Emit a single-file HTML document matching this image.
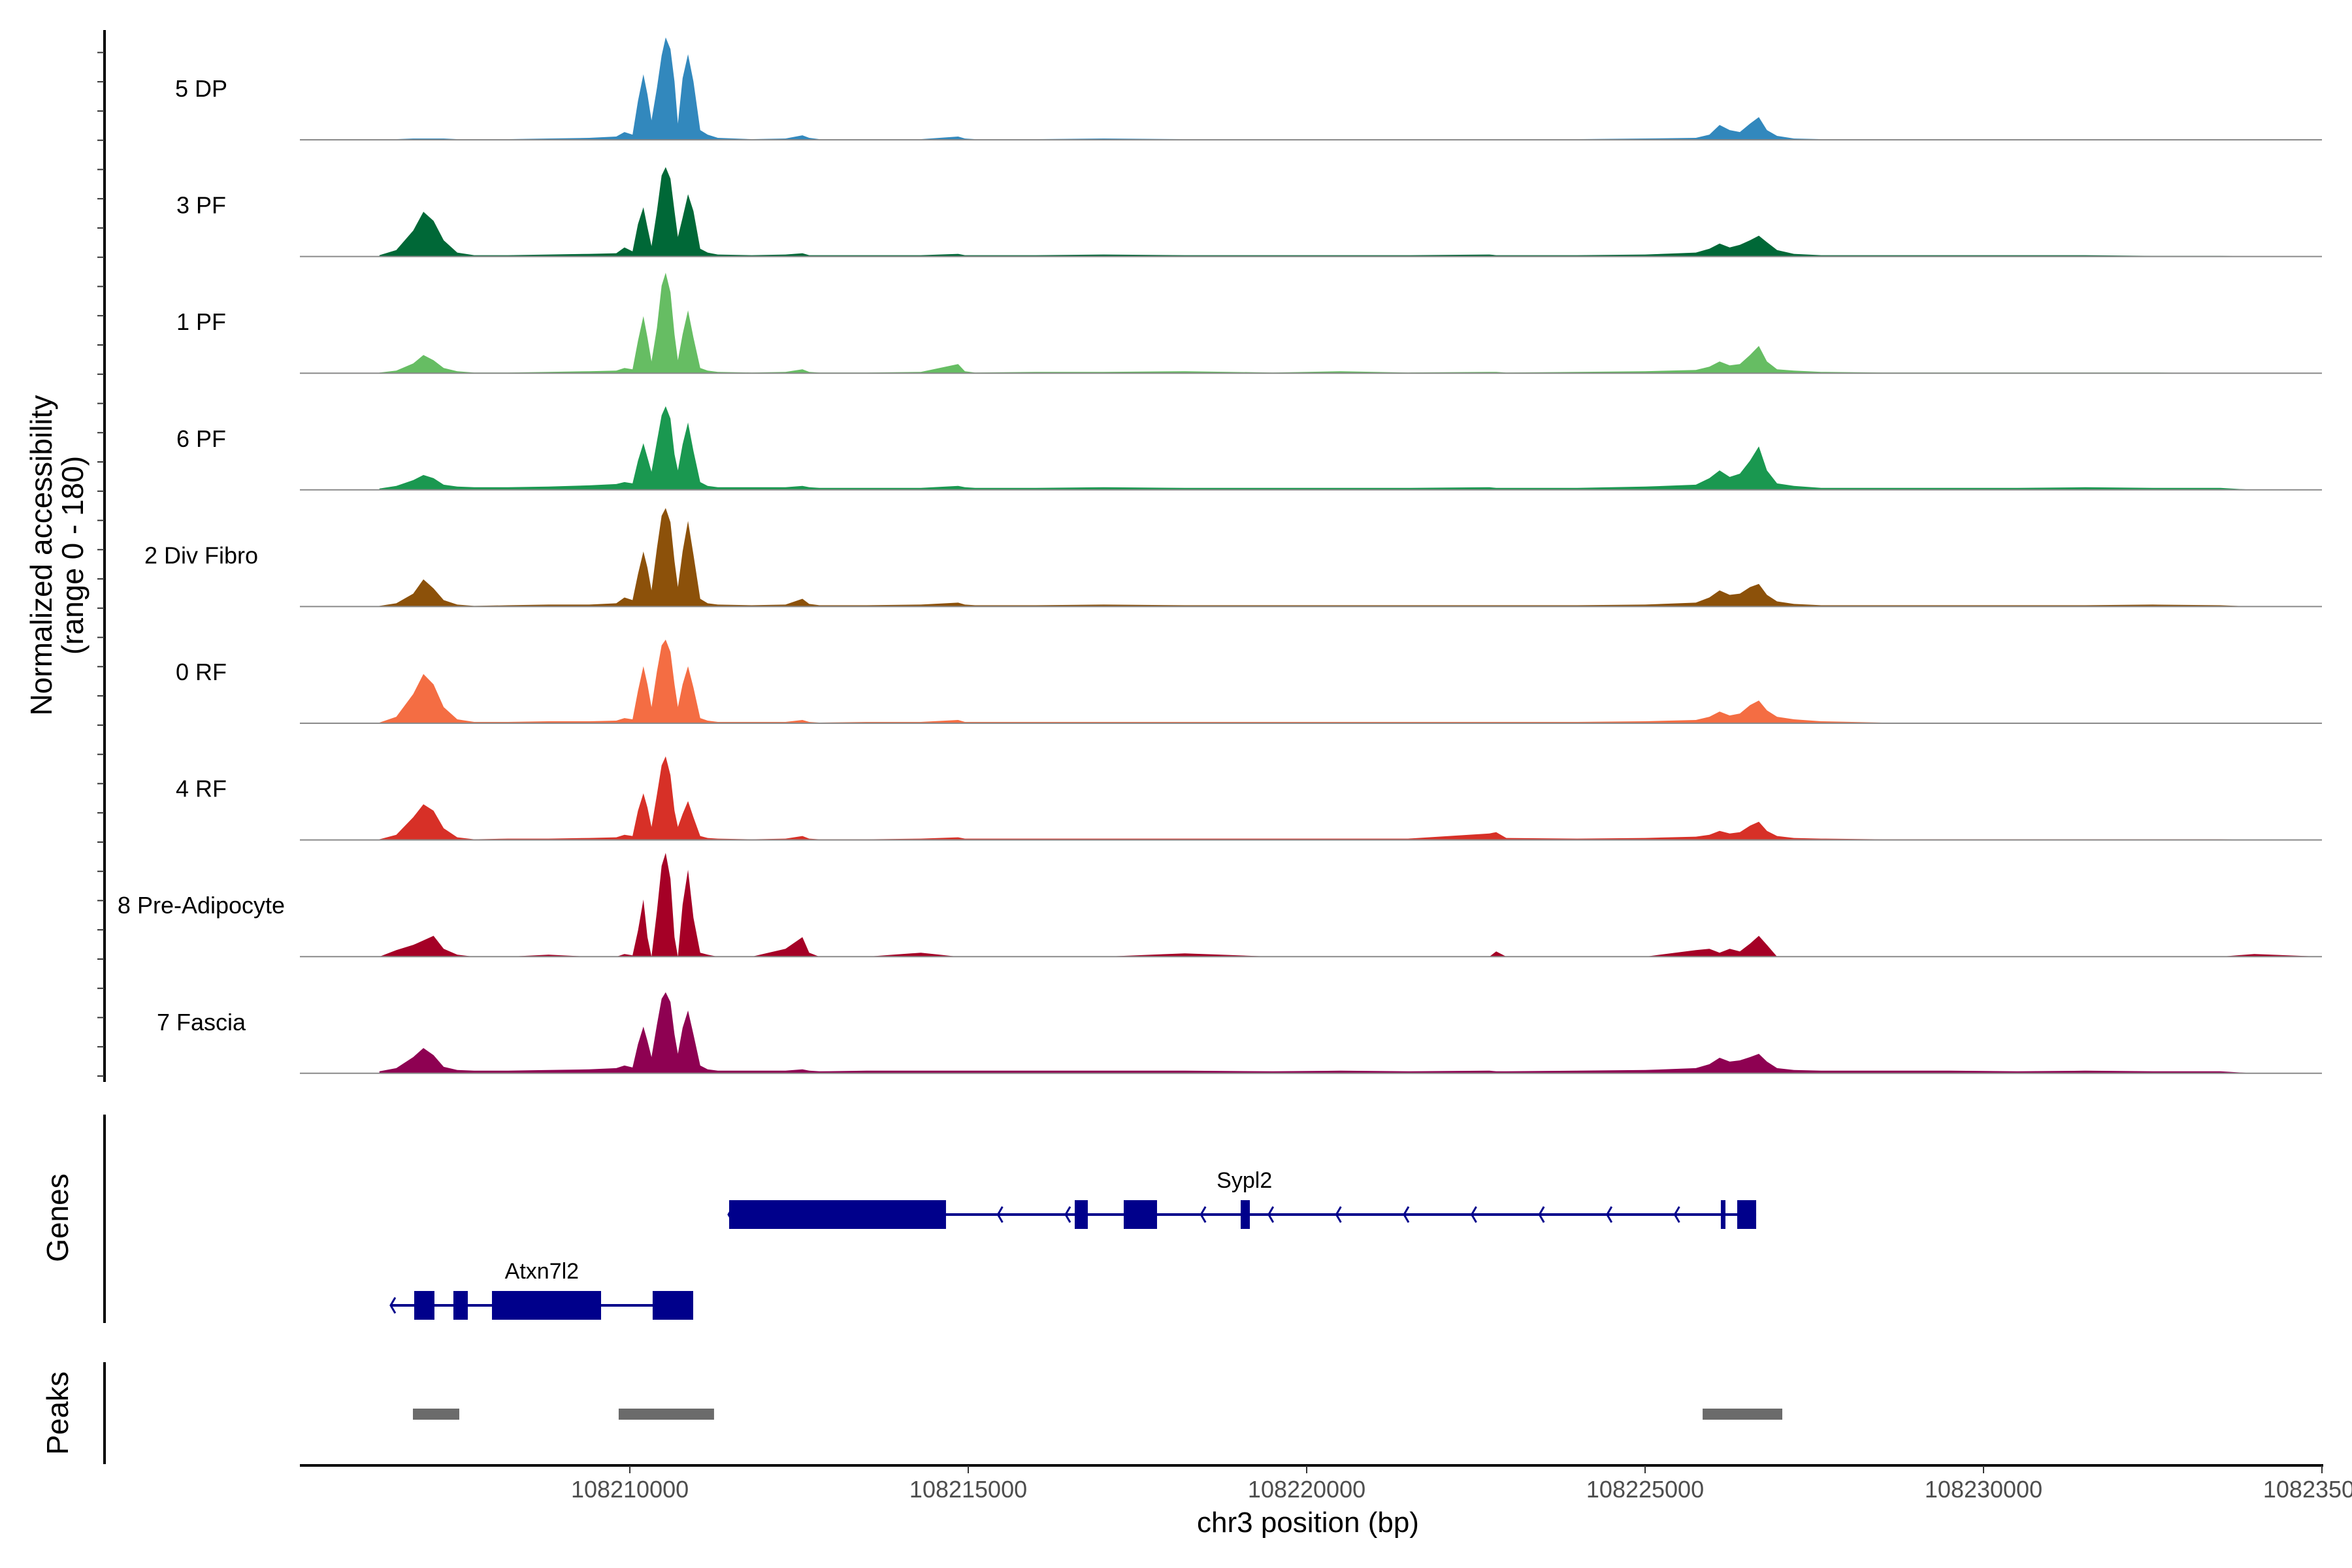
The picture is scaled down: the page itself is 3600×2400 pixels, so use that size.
<!DOCTYPE html>
<html><head><meta charset="utf-8">
<style>
html,body{margin:0;padding:0;background:#fff;}
svg{display:block;font-family:"Liberation Sans",Arial,sans-serif;}
</style></head>
<body>
<svg id="chart" width="3600" height="2400" viewBox="0 0 3600 2400" xmlns="http://www.w3.org/2000/svg">
<rect x="0" y="0" width="3600" height="2400" fill="#fff"/>
<g id="tracks"></g>
<g id="yaxis"></g>
<g id="genes"></g>
<g id="peaks"></g>
<g id="xaxis"></g>
<text x="0" y="0" transform="translate(87,850) rotate(-90)" text-anchor="middle" font-size="46" fill="#000"><tspan x="0" dy="-8">Normalized accessibility</tspan><tspan x="0" dy="48">(range 0 - 180)</tspan></text>
<text x="0" y="0" transform="translate(104,1864) rotate(-90)" text-anchor="middle" font-size="46" fill="#000">Genes</text>
<text x="0" y="0" transform="translate(104,2163) rotate(-90)" text-anchor="middle" font-size="46" fill="#000">Peaks</text>
<text x="2002" y="2345" text-anchor="middle" font-size="44" fill="#000">chr3 position (bp)</text>
</svg>
<script>
const positions = [206300,206550,206800,206950,207100,207250,207450,207700,208200,208800,
209400,209800,209920,210040,210120,210200,210260,210320,210400,210470,
210530,210600,210660,210710,210780,210860,210940,211040,211150,211300,
211800,212300,212550,212650,212800,213500,214300,214850,214950,215100,
216000,217000,218200,219500,220500,221500,222700,222800,222950,224000,
225000,225750,225950,226100,226250,226400,226550,226680,226800,226950,
227200,227600,228500,229500,230500,231500,232500,233500,234000,235000];
const trackNames = ["5 DP","3 PF","1 PF","6 PF","2 Div Fibro","0 RF","4 RF","8 Pre-Adipocyte","7 Fascia"];
const trackColors = ["#3288bd","#006837","#66bd63","#1a9850","#8c510a","#f46d43","#d73027","#a50026","#8e0152"];
const v5DP = [0,1,2,2,2,2,1,1,1,2, 3,5,12,8,60,101,70,30,80,130, 158,140,90,25,95,132,90,15,8,3, 1,2,7,3,1,1,1,5,2,1, 1,2,1,1,1,1,1,1,1,1, 2,3,8,23,15,12,25,35,15,6, 2,1,1,1,1,1,1,1,0,0];
const v3PF = [2,10,40,69,55,25,6,2,2,3, 4,5,14,8,50,76,45,16,70,125, 138,120,70,30,60,96,70,12,6,3, 2,3,5,2,2,2,2,4,2,2, 2,3,2,2,2,2,3,2,2,2, 3,6,12,20,14,18,25,32,22,10, 4,2,2,2,2,2,1,1,0,0];
const v1PF = [1,4,15,28,20,8,3,1,1,2, 3,4,8,6,50,88,55,18,70,135, 155,125,60,20,60,97,55,8,4,2, 1,2,6,2,1,1,2,14,3,1, 2,2,3,1,3,1,2,2,1,2, 3,5,10,18,12,14,28,42,18,6, 4,2,1,1,1,1,1,0,0,0];
const v6PF = [2,6,15,23,18,8,5,4,4,5, 7,9,12,10,45,72,50,28,75,115, 129,110,55,30,70,104,60,12,6,4, 4,4,6,4,3,3,3,6,4,3, 3,4,3,3,3,3,4,3,3,3, 5,8,18,30,20,25,45,67,30,10, 6,3,3,3,3,4,3,3,0,0];
const v2DivFibro = [1,5,20,42,28,10,3,1,2,3, 3,5,14,10,50,85,60,25,90,140, 152,130,70,30,85,132,80,12,5,3, 2,3,12,4,2,2,3,6,3,2, 2,3,2,2,2,2,2,2,2,2, 3,6,14,25,18,20,30,35,18,8, 4,2,2,2,2,2,3,2,0,0];
const v0RF = [1,10,45,76,60,25,6,2,2,3, 3,4,8,6,50,88,60,25,80,120, 129,110,60,25,60,88,55,8,4,2, 2,2,5,2,1,2,2,5,2,2, 2,2,2,2,2,2,2,2,2,2, 3,5,10,18,12,15,28,35,20,10, 6,3,1,1,1,1,1,1,0,0];
const v4RF = [1,8,35,55,45,18,4,1,2,2, 3,4,8,6,45,72,50,20,70,115, 129,100,45,20,40,60,35,6,3,2, 1,2,6,2,1,1,2,4,2,2, 2,2,2,2,2,2,10,12,3,2, 3,5,8,14,10,12,22,28,14,6, 3,2,1,1,1,1,1,1,0,0];
const v8PreAdipocyte = [0,10,18,25,32,12,3,0,0,3, 0,0,4,2,40,88,30,0,70,140, 160,120,30,0,80,134,60,6,3,0, 0,12,30,6,0,0,6,0,0,0, 0,0,5,0,0,0,0,8,0,0, 0,10,12,6,12,8,20,32,18,0, 0,0,0,0,0,0,0,0,4,0];
const v7Fascia = [3,8,25,39,28,10,5,4,4,5, 6,8,12,9,45,72,50,25,75,115, 125,110,60,30,70,97,60,12,6,4, 4,4,6,4,3,4,4,4,4,4, 4,4,4,3,4,3,4,3,3,4, 5,8,14,24,18,20,25,30,18,8, 5,4,4,4,3,4,3,3,0,0];
const trackValues = [v5DP,v3PF,v1PF,v6PF,v2DivFibro,v0RF,v4RF,v8PreAdipocyte,v7Fascia];
const xTicks = [108210000,108215000,108220000,108225000,108230000,108235000];
const sypl2Exons = [[108211467,108214671],[108216573,108216766],[108217297,108217789],[108219025,108219160],[108226119,108226187],[108226361,108226641]];
const sypl2Span = [108211467,108226641];
const atxnExons = [[108206814,108207113],[108207393,108207606],[108207963,108209575],[108210337,108210936]];
const atxnSpan = [108206476,108210936];
const peakRegions = [[108206795,108207480],[108209835,108211244],[108225850,108227027]];

const NS="http://www.w3.org/2000/svg";
const X0=459, X1=3554, BP0=108205125, BP1=108235000, POS_BASE=108000000;
function xs(bp){return X0+(bp-BP0)/(BP1-BP0)*(X1-X0);}
const YMAX=180, TRACK_H=178.6, BASE0=214;
function el(tag,attrs,parent){const e=document.createElementNS(NS,tag);for(const k in attrs)e.setAttribute(k,attrs[k]);parent.appendChild(e);return e;}

const gT=document.getElementById('tracks');
trackValues.forEach((vals,i)=>{
  const base=BASE0+i*TRACK_H;
  const ys=v=>base-v/YMAX*TRACK_H;
  let d="M"+xs(POS_BASE+positions[0]).toFixed(1)+","+base.toFixed(1);
  positions.forEach((p,j)=>{d+=" L"+xs(POS_BASE+p).toFixed(1)+","+ys(vals[j]||0).toFixed(1);});
  d+=" L"+xs(POS_BASE+positions[positions.length-1]).toFixed(1)+","+base.toFixed(1)+" Z";
  const a=el('path',{d:d,fill:trackColors[i]},gT);
  
  
  const bl=el('line',{x1:X0,x2:X1,y1:base,y2:base,stroke:'#8a8a8a','stroke-width':2},gT);
  
  
  const t=el('text',{x:308,y:base-66,'text-anchor':'middle','font-size':36,fill:'#000'},gT);
  t.textContent=trackNames[i];
  
  
});

const gY=document.getElementById('yaxis');
const yl=el('line',{x1:160,x2:160,y1:46,y2:1656,stroke:'#000','stroke-width':4},gY);


for(let k=0;k<36;k++){const y=1647-k*44.76;
  const tk=el('line',{x1:149,x2:160,y1:y,y2:y,stroke:'#333','stroke-width':2},gY);
  
  }

const gG=document.getElementById('genes');
const gl=el('line',{x1:160,x2:160,y1:1706,y2:2025,stroke:'#000','stroke-width':4},gG);


function drawGene(span,exons,yc,name,labelBp,labelY){
  const g=el('g',{},gG);
  
  
  el('line',{x1:xs(span[0]),x2:xs(span[1]),y1:yc,y2:yc,stroke:'#00008b','stroke-width':4},g);
  for(let b=span[0]+1000;b<span[1]-300;b+=1000){
    const x=xs(b);
    el('path',{d:`M${x+4},${yc-12} L${x-3},${yc} L${x+4},${yc+12}`,fill:'none',stroke:'#00008b','stroke-width':3},g);
  }
  const ax=xs(span[0]);
  el('path',{d:`M${ax+6},${yc-12} L${ax-1},${yc} L${ax+6},${yc+12}`,fill:'none',stroke:'#00008b','stroke-width':3},g);
  exons.forEach(e=>{const r=el('rect',{x:xs(e[0]),y:yc-22,width:Math.max(xs(e[1])-xs(e[0]),6),height:44,fill:'#00008b'},g);
    
    });
  const t=el('text',{x:xs(labelBp),y:labelY,'text-anchor':'middle','font-size':34,fill:'#000'},g);
  t.textContent=name;
  
  
}
drawGene(sypl2Span,sypl2Exons,1859,'Sypl2',108219080,1818);
drawGene(atxnSpan,atxnExons,1998,'Atxn7l2',108208700,1957);

const gP=document.getElementById('peaks');
const pl=el('line',{x1:160,x2:160,y1:2085,y2:2241,stroke:'#000','stroke-width':4},gP);


peakRegions.forEach(p=>{const r=el('rect',{x:xs(p[0]),y:2156,width:xs(p[1])-xs(p[0]),height:17,fill:'#6b6b6b'},gP);
  
  });

const gX=document.getElementById('xaxis');
const xl=el('line',{x1:X0,x2:X1+2,y1:2243,y2:2243,stroke:'#000','stroke-width':4},gX);


xTicks.forEach(t=>{const x=xs(t);
  const tk=el('line',{x1:x,x2:x,y1:2243,y2:2255,stroke:'#333','stroke-width':2},gX);
  
  
  const lb=el('text',{x:x,y:2292,'text-anchor':'middle','font-size':36,fill:'#4d4d4d'},gX);
  lb.textContent=String(t);
  
  });
</script>
</body></html>
